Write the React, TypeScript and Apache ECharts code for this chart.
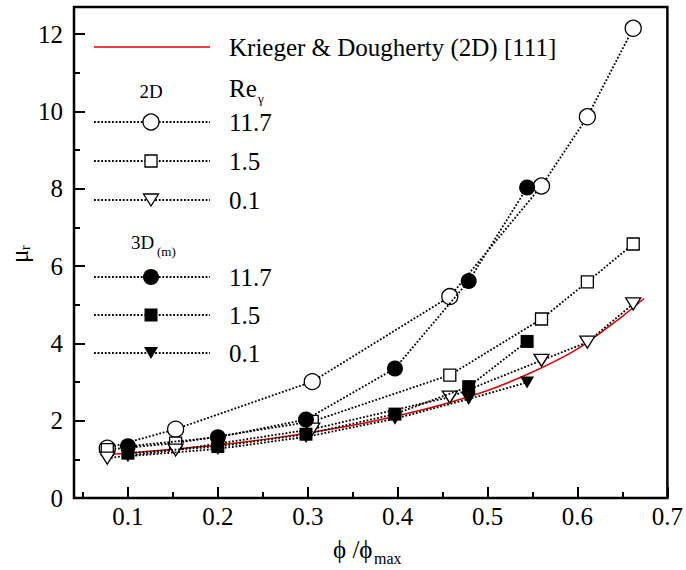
import React, { useEffect, useRef } from "react";
import * as echarts from "echarts";

// ---- Data ----
const xTicks = [0.1, 0.2, 0.3, 0.4, 0.5, 0.6, 0.7];
const xTickLabels = ["0.1", "0.2", "0.3", "0.4", "0.5", "0.6", "0.7"];
const xMinorTicks = [0.05, 0.15, 0.25, 0.35, 0.45, 0.55, 0.65];
const yTicks = [0, 2, 4, 6, 8, 10, 12];
const yTickLabels = ["0", "2", "4", "6", "8", "10", "12"];
const yMinorTicks = [1, 3, 5, 7, 9, 11];

// Krieger & Dougherty (2D) [111] curve
const kdX = [0.08, 0.1, 0.15, 0.2, 0.25, 0.3, 0.35, 0.4, 0.45, 0.5, 0.55, 0.6, 0.65, 0.674];
const kdY = [1.13, 1.16, 1.26, 1.37, 1.51, 1.68, 1.88, 2.13, 2.42, 2.78, 3.26, 3.86, 4.7, 5.16];

// 2D simulations
const x2D = [0.077, 0.153, 0.305, 0.458, 0.56, 0.611, 0.662];
const y2D_Re11_7 = [1.29, 1.78, 3.01, 5.21, 8.07, 9.86, 12.15];
const y2D_Re1_5 = [1.25, 1.42, 1.98, 3.18, 4.63, 5.59, 6.57];
const y2D_Re0_1 = [1.03, 1.24, 1.78, 2.61, 3.56, 4.03, 5.02];

// 3D(m) simulations
const x3D = [0.1, 0.2, 0.298, 0.397, 0.479, 0.544];
const y3D_Re11_7 = [1.34, 1.57, 2.03, 3.35, 5.61, 8.03];
const y3D_Re1_5 = [1.16, 1.33, 1.65, 2.17, 2.88, 4.05];
const y3D_Re0_1 = [1.08, 1.27, 1.58, 2.05, 2.56, 2.99];

const legendReLabels = ["11.7", "1.5", "0.1"];

const FONT = "'Liberation Serif', 'Times New Roman', serif";
const TRI_DOWN = "path://M0,0L10,0L5,8Z";

const zip = (xs: number[], ys: number[]) => xs.map((x, i) => [x, ys[i]]);

export default function App() {
  const ref = useRef<HTMLDivElement>(null);

  useEffect(() => {
    if (!ref.current) return;
    const chart = echarts.init(ref.current, null, { renderer: "svg" });

    const dotted = { type: [1.8, 1.8] as any, width: 1.8, color: "#000" };
    const openStyle = { color: "#fff", borderColor: "#000", borderWidth: 1.3 };
    const fillStyle = { color: "#000", borderColor: "#000", borderWidth: 0 };

    const mkSeries = (
      name: string,
      xs: number[],
      ys: number[],
      symbol: string,
      size: any,
      style: any,
      z: number
    ) => ({
      name,
      type: "line",
      data: zip(xs, ys),
      symbol,
      symbolSize: size,
      showAllSymbol: true,
      lineStyle: dotted,
      itemStyle: style,
      z,
      silent: true,
    });

    const txt = (x: number, y: number, text: string, size: number, extra: any = {}) => ({
      type: "text",
      x,
      y,
      ...extra,
      style: {
        text,
        fontSize: size,
        fontFamily: FONT,
        fill: "#000",
        verticalAlign: "middle",
        align: "left",
        ...(extra.style || {}),
      },
    });

    // Legend drawn with graphic elements
    const lx0 = 94, lx1 = 210, lm = 151, lt = 229;
    const rows2D = [122, 161, 200];
    const rows3D = [277, 315, 353];
    const lineDash = [1.8, 1.8];
    const legendEls: any[] = [
      { type: "line", shape: { x1: lx0, y1: 47, x2: lx1, y2: 47 }, style: { stroke: "#e00000", lineWidth: 1.5 } },
      txt(lt, 47, "Krieger & Dougherty (2D) [111]", 25),
      txt(151, 91, "2D", 19, { style: { align: "center" } }),
      txt(lt, 88, "Re", 25),
      txt(lt + 29, 98, "γ", 13),
      txt(131, 242, "3D", 19),
      txt(157, 251, "(m)", 13),
    ];
    const addRow = (y: number, label: string, marker: any) => {
      legendEls.push({ type: "line", shape: { x1: lx0, y1: y, x2: lx1, y2: y }, style: { stroke: "#000", lineWidth: 1.8, lineDash } });
      legendEls.push(marker);
      legendEls.push(txt(lt, y, label, 25));
    };
    addRow(rows2D[0], legendReLabels[0], { type: "circle", shape: { cx: lm, cy: rows2D[0], r: 8 }, style: { fill: "#fff", stroke: "#000", lineWidth: 1.3 } });
    addRow(rows2D[1], legendReLabels[1], { type: "rect", shape: { x: lm - 6, y: rows2D[1] - 6, width: 12, height: 12 }, style: { fill: "#fff", stroke: "#000", lineWidth: 1.3 } });
    addRow(rows2D[2], legendReLabels[2], { type: "polygon", shape: { points: [[lm - 7.5, rows2D[2] - 6], [lm + 7.5, rows2D[2] - 6], [lm, rows2D[2] + 6]] }, style: { fill: "#fff", stroke: "#000", lineWidth: 1.3 } });
    addRow(rows3D[0], legendReLabels[0], { type: "circle", shape: { cx: lm, cy: rows3D[0], r: 8 }, style: { fill: "#000" } });
    addRow(rows3D[1], legendReLabels[1], { type: "rect", shape: { x: lm - 6.5, y: rows3D[1] - 6.5, width: 13, height: 13 }, style: { fill: "#000" } });
    addRow(rows3D[2], legendReLabels[2], { type: "polygon", shape: { points: [[lm - 7, rows3D[2] - 6], [lm + 7, rows3D[2] - 6], [lm, rows3D[2] + 6]] }, style: { fill: "#000" } });

    // Axis titles
    legendEls.push(
      txt(333, 549, "ϕ /ϕ", 25),
      txt(374, 558, "max", 16),
      txt(19, 263, "μ", 25, { rotation: Math.PI / 2 }),
      txt(25, 250, "r", 14, { rotation: Math.PI / 2 })
    );

    const labelStyle = { fontSize: 25, fontFamily: FONT, color: "#000" };

    const option: any = {
      animation: false,
      backgroundColor: "#fff",
      grid: { left: 74, right: 18, top: 7, bottom: 72, show: true, borderColor: "#000", borderWidth: 2.5, backgroundColor: "transparent" },
      xAxis: [
        {
          type: "value",
          min: 0.04,
          max: 0.7,
          axisLine: { show: false },
          splitLine: { show: false },
          axisTick: { show: true, inside: true, length: 11, lineStyle: { color: "#000", width: 2 }, customValues: xTicks },
          axisLabel: {
            ...labelStyle,
            margin: 6,
            customValues: xTicks,
            formatter: (v: number) => {
              const i = xTicks.findIndex((t) => Math.abs(t - v) < 1e-9);
              return i >= 0 ? xTickLabels[i] : "";
            },
          },
        },
        {
          type: "value",
          min: 0.04,
          max: 0.7,
          position: "bottom",
          axisLine: { show: false },
          splitLine: { show: false },
          axisLabel: { show: false },
          axisTick: { show: true, inside: true, length: 6, lineStyle: { color: "#000", width: 2 }, customValues: xMinorTicks },
        },
      ],
      yAxis: [
        {
          type: "value",
          min: 0,
          max: 12.7,
          axisLine: { show: false },
          splitLine: { show: false },
          axisTick: { show: true, inside: true, length: 11, lineStyle: { color: "#000", width: 2 }, customValues: yTicks },
          axisLabel: {
            ...labelStyle,
            margin: 11,
            customValues: yTicks,
            formatter: (v: number) => {
              const i = yTicks.findIndex((t) => Math.abs(t - v) < 1e-9);
              return i >= 0 ? yTickLabels[i] : "";
            },
          },
        },
        {
          type: "value",
          min: 0,
          max: 12.7,
          position: "left",
          axisLine: { show: false },
          splitLine: { show: false },
          axisLabel: { show: false },
          axisTick: { show: true, inside: true, length: 6, lineStyle: { color: "#000", width: 2 }, customValues: yMinorTicks },
        },
      ],
      series: [
        {
          name: "Krieger & Dougherty (2D) [111]",
          type: "line",
          data: zip(kdX, kdY),
          symbol: "none",
          smooth: 0.3,
          lineStyle: { color: "#e00000", width: 1.5 },
          z: 2,
          silent: true,
        },
        mkSeries("2D Re 11.7", x2D, y2D_Re11_7, "circle", 16, openStyle, 3),
        mkSeries("2D Re 1.5", x2D, y2D_Re1_5, "rect", 12, openStyle, 3),
        mkSeries("2D Re 0.1", x2D, y2D_Re0_1, TRI_DOWN, [15, 12], openStyle, 3),
        mkSeries("3D Re 11.7", x3D, y3D_Re11_7, "circle", 16, fillStyle, 4),
        mkSeries("3D Re 1.5", x3D, y3D_Re1_5, "rect", 13, fillStyle, 4),
        mkSeries("3D Re 0.1", x3D, y3D_Re0_1, TRI_DOWN, [14, 12], fillStyle, 4),
      ],
      graphic: { elements: legendEls },
    };

    chart.setOption(option);
    return () => chart.dispose();
  }, []);

  return <div ref={ref} style={{ position: "absolute", left: 0, top: 0, width: 686, height: 570 }} />;
}
